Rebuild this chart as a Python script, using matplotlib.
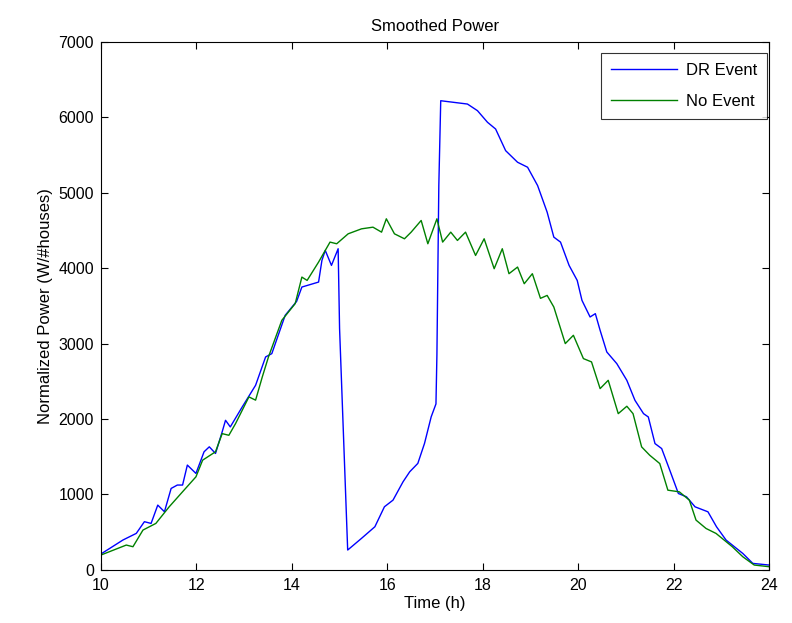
import matplotlib
matplotlib.use("Agg")
import matplotlib.pyplot as plt

plt.rcParams['font.family'] = ['Liberation Sans', 'DejaVu Sans']

# DR Event (blue)
dr_t = [10.0, 10.46, 10.74, 10.91, 11.05, 11.19, 11.33, 11.47, 11.60, 11.71, 11.81, 11.99,
        12.16, 12.27, 12.40, 12.54, 12.61, 12.71, 12.96, 13.24, 13.45, 13.58, 13.86, 14.10,
        14.21, 14.56, 14.63, 14.70, 14.83, 14.97, 15.00, 15.17, 15.46, 15.74, 15.94, 16.12,
        16.33, 16.47, 16.64, 16.78, 16.92, 17.02, 17.04, 17.08, 17.12, 17.40, 17.68, 17.89,
        18.10, 18.27, 18.48, 18.73, 18.94, 19.15, 19.35, 19.49, 19.63, 19.81, 19.98, 20.08,
        20.25, 20.36, 20.46, 20.60, 20.81, 21.02, 21.19, 21.37, 21.47, 21.61, 21.75, 21.92,
        22.10, 22.27, 22.45, 22.72, 22.90, 23.10, 23.45, 23.66, 24.0]
dr_v = [210, 395, 483, 638, 615, 858, 770, 1079, 1124, 1124, 1389, 1278,
        1565, 1631, 1543, 1830, 1983, 1895, 2160, 2447, 2823, 2867, 3375, 3560,
        3750, 3816, 4103, 4236, 4037, 4258, 3200, 262, 417, 571, 836, 924,
        1167, 1300, 1411, 1676, 2029, 2200, 2850, 5100, 6221, 6199, 6177, 6089,
        5935, 5846, 5559, 5405, 5339, 5096, 4743, 4412, 4346, 4037, 3838, 3573,
        3353, 3397, 3176, 2889, 2734, 2513, 2248, 2071, 2027, 1674, 1608, 1321,
        1012, 968, 835, 769, 570, 394, 217, 85, 63]

# No Event (green)
ne_t = [10.0, 10.53, 10.67, 10.88, 11.15, 11.43, 11.71, 11.99, 12.13, 12.40, 12.54, 12.68,
        12.82, 13.10, 13.24, 13.38, 13.51, 13.79, 14.07, 14.21, 14.32, 14.56, 14.80, 14.94,
        15.18, 15.46, 15.70, 15.88, 15.98, 16.15, 16.36, 16.50, 16.71, 16.85, 17.04, 17.16,
        17.33, 17.47, 17.64, 17.85, 18.03, 18.24, 18.41, 18.55, 18.73, 18.87, 19.04, 19.21,
        19.35, 19.49, 19.73, 19.90, 20.11, 20.28, 20.46, 20.63, 20.84, 21.02, 21.15, 21.33,
        21.50, 21.71, 21.88, 22.12, 22.33, 22.47, 22.68, 22.89, 23.23, 23.45, 23.69, 24.0]
ne_v = [196, 328, 306, 527, 615, 836, 1035, 1233, 1454, 1565, 1806, 1784,
        1939, 2293, 2250, 2557, 2823, 3309, 3530, 3882, 3838, 4081, 4346, 4324,
        4456, 4522, 4544, 4478, 4655, 4456, 4390, 4478, 4633, 4324, 4655, 4346,
        4478, 4368, 4478, 4169, 4390, 3993, 4258, 3927, 4015, 3794, 3927, 3600,
        3639, 3485, 3000, 3110, 2801, 2757, 2403, 2513, 2071, 2169, 2071, 1630,
        1519, 1409, 1056, 1034, 924, 659, 548, 482, 306, 173, 63, 41]

xticks = [10, 12, 14, 16, 18, 20, 22, 24]
yticks = [0, 1000, 2000, 3000, 4000, 5000, 6000, 7000]

fig = plt.figure(figsize=(7.92, 6.23), dpi=100)
ax = fig.add_axes([0.1275, 0.0854, 0.8435, 0.8472])
ax.plot(dr_t, dr_v, color=(0, 0, 1), lw=1.0, label='DR Event')
ax.plot(ne_t, ne_v, color=(0, 0.5, 0), lw=1.0, label='No Event')
ax.set_xlim(10, 24)
ax.set_ylim(0, 7000)
ax.set_xticks(xticks)
ax.set_yticks(yticks)
ax.tick_params(direction='in', length=5, top=True, right=True, labelsize=11.5, width=0.8)
ax.tick_params(axis='x', pad=6)
ax.tick_params(axis='y', pad=5)
for s in ax.spines.values():
    s.set_linewidth(0.8)
ax.set_xlabel('Time (h)', fontsize=12, labelpad=2)
ax.set_ylabel('Normalized Power (W/#houses)', fontsize=12, labelpad=4)
ax.set_title('Smoothed Power', fontsize=12, pad=8)
leg = ax.legend(loc='upper right', bbox_to_anchor=(0.997, 0.979), fontsize=12,
                frameon=True, fancybox=False, edgecolor='black', handlelength=4.0,
                borderaxespad=0.0, labelspacing=0.95, borderpad=0.6, handletextpad=0.5)
leg.get_frame().set_linewidth(0.8)
fig.savefig('out.png', dpi=100)
